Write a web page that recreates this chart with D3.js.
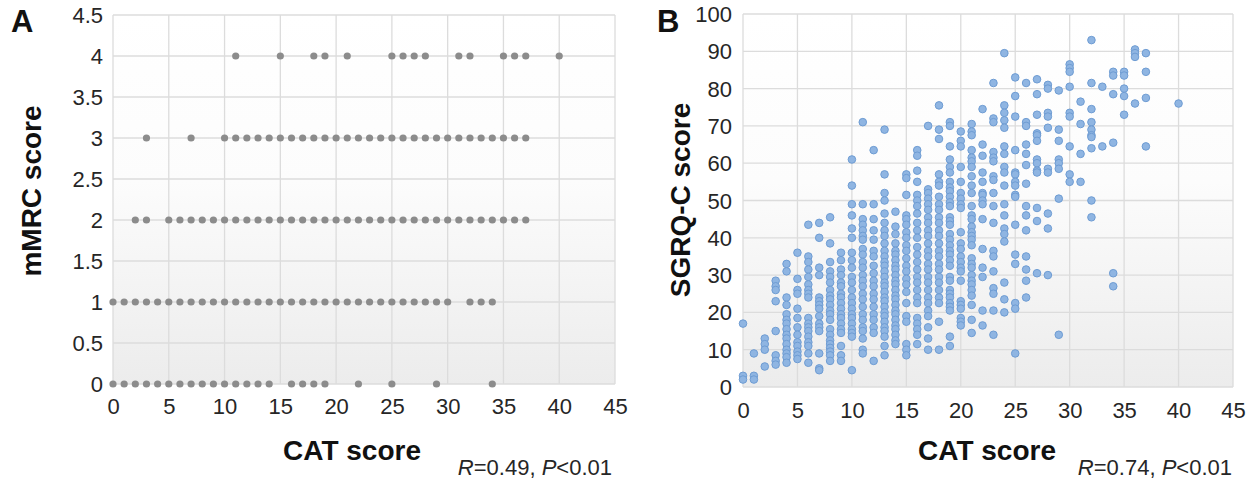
<html>
<head>
<title>mMRC and SGRQ-C vs CAT score</title>
<style>
  body { margin: 0; background: #fff; }
  svg { font-family: "Liberation Sans", Arial, sans-serif; }
</style>
</head>
<body>
<svg></svg>
<script src="https://d3js.org/d3.v7.min.js"></script>
<script>
// ---- data: panel A, CAT scores observed at each mMRC level ----
const mmrc0Cat = [0,1,2,3,4,5,6,7,8,9,10,11,12,13,14,16,17,18,19,22,25,29,34];
const mmrc1Cat = [0,1,2,3,4,5,6,7,8,9,10,11,12,13,14,15,16,17,18,19,20,21,22,23,24,25,26,27,28,29,30,32,33,34];
const mmrc2Cat = [2,3,5,6,7,8,9,10,11,12,13,14,15,16,17,18,19,20,21,22,23,24,25,26,27,28,29,30,31,32,33,34,35,36,37];
const mmrc3Cat = [3,7,10,11,12,13,14,15,16,17,18,19,20,21,22,23,24,25,26,27,28,29,30,31,32,33,34,35,36,37];
const mmrc4Cat = [11,15,18,19,21,25,26,27,28,31,32,35,36,37,40];

// ---- data: panel B, SGRQ-C scores for each CAT score ----
const sgrqCat0 = [17,3,2];
const sgrqCat1 = [9,3,2];
const sgrqCat2 = [13,11.5,10,5.5];
const sgrqCat3 = [28.5,27,26,23,15,8.5,7,6];
const sgrqCat4 = [33,31,24,22,19.5,18,17,15.5,14,13,11.5,10,9,8,6.5];
const sgrqCat5 = [36,29,26,25,21,18.5,16,14,12,11,9.5,8.5,7.5];
const sgrqCat6 = [43.5,35,33.5,31.5,29.5,27.5,26,25,24,18.5,17,16,15,13.5,12,11,9,6.5];
const sgrqCat7 = [44,40,32,30,24,23,22,21,19,17,16,15,9,5,4.5];
const sgrqCat8 = [45.5,38.5,33.5,31,29.5,28,26,24.5,23.5,22,20.5,19.5,18,15.5,14,12.5,11.5,10.5,9.5,8.5,7];
const sgrqCat9 = [36,34,31.5,30,28,27,25,24,22.5,21,19.5,18.5,17,15.5,14.5,11,8.5,7];
const sgrqCat10 = [61,54,49,46,42.5,40,36,34,32,29.5,28,26,24,22.5,21,19.5,18.5,17,15.5,14.5,13.5,4.5];
const sgrqCat11 = [71,49,45,43.5,42,40.5,39.5,37,35.5,33.5,32,30,28.5,27,25,23.5,21.5,19.5,18,16,15,13,10,9];
const sgrqCat12 = [63.5,49,45,42,39.5,36.5,35,32.5,30.5,28.5,27,25,23.5,21.5,19.5,18,16,14.5,7];
const sgrqCat13 = [69,57,52,50,46.5,44,42,40.5,38.5,36.5,35,33.5,32.5,31,29.5,28,27,25.5,24,23,21.5,20,19,17.5,16,15,13.5,11,8.5];
const sgrqCat14 = [47,43,41,38.5,36.5,35.5,34,32.5,31.5,30,28.5,27.5,26,24.5,23.5,22,20.5,19.5,18,16.5,15.5,14,12.5,11.5];
const sgrqCat15 = [57,56,51.5,46,45,43.5,41.5,40,38,36.5,34.5,32.5,31,29,27.5,25.5,22.5,19,17.5,11.5,10,8.5];
const sgrqCat16 = [63.5,62,58,55,51.5,50,48.5,46.5,44,42,40,37.5,35.5,33.5,31.5,29.5,28,26,24,22.5,18.5,17,15.5,14,11.5];
const sgrqCat17 = [70,53,52,50.5,49,47.5,45.5,44,42,40.5,38.5,36.5,35,33,31.5,29.5,28,26,24,22.5,20.5,19,16,13,10];
const sgrqCat18 = [75.5,69,66.5,57,55,54,51,49,47.5,45.5,44,42,40.5,38.5,36.5,35,33,31.5,29.5,28,26,24,22.5,17.5,10];
const sgrqCat19 = [71,70,64.5,61,59,57.5,55,53.5,52.5,51,49.5,48.5,45.5,44.5,43.5,41,39.5,38,36.5,35.5,34,32.5,29.5,28.5,26,25,24,22.5,21.5,20.5,13.5,11];
const sgrqCat20 = [68.5,66,64.5,59,55,52,50.5,49,48,41.5,38.5,37,35,33.5,32,31,28.5,23,22,21,18.5,17.5,16.5];
const sgrqCat21 = [70.5,68.5,67.5,63.5,61.5,60.5,59,56.5,54,52,48.5,46,45,43,41.5,40.5,39.5,38,34.5,33,32,30,28.5,27.5,26,24.5,22,18,14.5];
const sgrqCat22 = [74.5,65,62,57.5,55,52,51.5,50,49,45,37,32,29.5,20.5,16.5];
const sgrqCat23 = [81.5,72,71,63,61.5,60.5,56.5,55.5,52,48.5,44,36.5,35,31,26.5,25,20.5,14];
const sgrqCat24 = [89.5,75.5,73.5,71.5,69.5,64.5,62.5,59,57.5,54,49,46,42.5,41,39,28,23.5,20];
const sgrqCat25 = [83,78,72.5,63.5,57.5,57,55,54,51.5,51,43.5,35.5,33,22.5,21,9];
const sgrqCat26 = [81.5,71,70,65,62.5,59.5,54.5,48.5,46,42,35,31.5,28.5,24];
const sgrqCat27 = [82.5,78.5,73,68,67.5,66,61,60,58,57.5,48,44.5,30.5];
const sgrqCat28 = [81,80,73.5,72.5,69.5,58.5,57.5,46.5,42.5,30];
const sgrqCat29 = [79.5,69,66,61,60,58.5,50.5,14];
const sgrqCat30 = [86.5,85.5,84.5,80.5,73.5,72.5,64.5,57,55];
const sgrqCat31 = [76.5,70.5,62.5,55];
const sgrqCat32 = [93,81.5,74.5,71,69,67.5,67,64,50,45.5];
const sgrqCat33 = [80.5,64.5];
const sgrqCat34 = [84.5,83.5,78.5,65.5,30.5,27];
const sgrqCat35 = [84.5,83.5,80,78,73];
const sgrqCat36 = [90.5,89.5,88.5,76];
const sgrqCat37 = [89.5,84.5,77.5,64.5];
const sgrqCat40 = [76];

// ---- tick labels ----
const xTicks = [0,5,10,15,20,25,30,35,40,45];
const yTicksA = [0,0.5,1,1.5,2,2.5,3,3.5,4,4.5];
const yTicksB = [0,10,20,30,40,50,60,70,80,90,100];

// tidy tables built from the arrays above
const mmrcRows = [[0, mmrc0Cat],[1, mmrc1Cat],[2, mmrc2Cat],[3, mmrc3Cat],[4, mmrc4Cat]];
const pointsA = mmrcRows.flatMap(([m, cats]) => cats.map(c => ({cat: c, val: m})));

const sgrqCols = [
  [0,sgrqCat0],[1,sgrqCat1],[2,sgrqCat2],[3,sgrqCat3],[4,sgrqCat4],[5,sgrqCat5],
  [6,sgrqCat6],[7,sgrqCat7],[8,sgrqCat8],[9,sgrqCat9],[10,sgrqCat10],[11,sgrqCat11],
  [12,sgrqCat12],[13,sgrqCat13],[14,sgrqCat14],[15,sgrqCat15],[16,sgrqCat16],[17,sgrqCat17],
  [18,sgrqCat18],[19,sgrqCat19],[20,sgrqCat20],[21,sgrqCat21],[22,sgrqCat22],[23,sgrqCat23],
  [24,sgrqCat24],[25,sgrqCat25],[26,sgrqCat26],[27,sgrqCat27],[28,sgrqCat28],[29,sgrqCat29],
  [30,sgrqCat30],[31,sgrqCat31],[32,sgrqCat32],[33,sgrqCat33],[34,sgrqCat34],[35,sgrqCat35],
  [36,sgrqCat36],[37,sgrqCat37],[40,sgrqCat40]
];
const pointsB = sgrqCols.flatMap(([c, vals]) => vals.map(v => ({cat: c, val: v})));

const svg = d3.select("svg").attr("width", 1255).attr("height", 488);

// background gradient for the plot areas
const grad = svg.append("defs").append("linearGradient")
  .attr("id", "plotBg").attr("x1", 0).attr("y1", 0).attr("x2", 0).attr("y2", 1);
grad.append("stop").attr("offset", "0%").attr("stop-color", "#ffffff");
grad.append("stop").attr("offset", "45%").attr("stop-color", "#fcfcfc");
grad.append("stop").attr("offset", "100%").attr("stop-color", "#ececec");

function drawPanel(opts) {
  const x = d3.scaleLinear().domain([0, 45]).range([opts.left, opts.right]);
  const y = d3.scaleLinear().domain([0, opts.yMax]).range([opts.bottom, opts.top]);
  const g = svg.append("g");

  g.append("rect")
    .attr("x", opts.left).attr("y", opts.top)
    .attr("width", opts.right - opts.left).attr("height", opts.bottom - opts.top)
    .attr("fill", "url(#plotBg)");

  // grid lines
  g.append("g").selectAll("line").data(xTicks).join("line")
    .attr("x1", d => x(d)).attr("x2", d => x(d))
    .attr("y1", opts.top).attr("y2", opts.bottom)
    .attr("stroke", "#dcdcdc").attr("stroke-width", 1.3);
  g.append("g").selectAll("line").data(opts.yTicks).join("line")
    .attr("x1", opts.left).attr("x2", opts.right)
    .attr("y1", d => y(d)).attr("y2", d => y(d))
    .attr("stroke", "#dcdcdc").attr("stroke-width", 1.3);

  // axes (labels only)
  const xAxis = g.append("g")
    .attr("transform", "translate(0," + opts.bottom + ")")
    .call(d3.axisBottom(x).tickValues(xTicks).tickSize(0).tickFormat(d => String(d)));
  xAxis.select(".domain").remove();
  xAxis.selectAll("text")
    .attr("y", opts.xLabelDy).attr("dy", null)
    .attr("dominant-baseline", "central")
    .attr("font-size", 22).attr("fill", "#262626")
    .attr("font-family", "Liberation Sans, Arial, sans-serif");

  const yAxis = g.append("g")
    .attr("transform", "translate(" + opts.left + ",0)")
    .call(d3.axisLeft(y).tickValues(opts.yTicks).tickSize(0).tickFormat(d => String(d)));
  yAxis.select(".domain").remove();
  yAxis.selectAll("text")
    .attr("x", -opts.yLabelGap).attr("dy", null)
    .attr("dominant-baseline", "central")
    .attr("font-size", 22).attr("fill", "#262626")
    .attr("font-family", "Liberation Sans, Arial, sans-serif");

  // points
  g.append("g").selectAll("circle").data(opts.points).join("circle")
    .attr("cx", d => x(d.cat)).attr("cy", d => y(d.val))
    .attr("r", opts.r)
    .attr("fill", opts.fill)
    .attr("stroke", opts.stroke)
    .attr("stroke-width", opts.stroke === "none" ? 0 : 1);

  // axis titles
  g.append("text")
    .attr("x", opts.xTitleX).attr("y", 450)
    .attr("text-anchor", "middle").attr("dominant-baseline", "central")
    .attr("font-size", 28).attr("font-weight", "bold").attr("fill", "#111")
    .text("CAT score");
  g.append("text")
    .attr("transform", "translate(" + opts.yTitleX + "," + opts.yTitleY + ") rotate(-90)")
    .attr("text-anchor", "middle").attr("dominant-baseline", "central")
    .attr("font-size", 28).attr("font-weight", "bold").attr("fill", "#111")
    .text(opts.yTitle);

  // panel letter
  g.append("text")
    .attr("x", opts.letterX).attr("y", opts.letterY)
    .attr("font-size", 31).attr("font-weight", "bold").attr("fill", "#111")
    .text(opts.letter);

  // statistic note
  const note = g.append("text")
    .attr("x", opts.noteX).attr("y", 467)
    .attr("text-anchor", "end").attr("dominant-baseline", "central")
    .attr("font-size", 22).attr("fill", "#262626");
  note.append("tspan").attr("font-style", "italic").text("R");
  note.append("tspan").text("=" + opts.r2 + ", ");
  note.append("tspan").attr("font-style", "italic").text("P");
  note.append("tspan").text("<0.01");
}

drawPanel({
  left: 113, right: 615, top: 15, bottom: 384, yMax: 4.5, yTicks: yTicksA,
  points: pointsA, r: 3.6, fill: "#8c8c8c", stroke: "none",
  xLabelDy: 22, yLabelGap: 10,
  xTitleX: 352, yTitleX: 31, yTitleY: 191, yTitle: "mMRC score",
  letter: "A", letterX: 11, letterY: 32, noteX: 612, r2: "0.49"
});

drawPanel({
  left: 743, right: 1233, top: 14, bottom: 387, yMax: 100, yTicks: yTicksB,
  points: pointsB, r: 3.8, fill: "#8fb5e2", stroke: "#6e9cd3",
  xLabelDy: 23, yLabelGap: 11,
  xTitleX: 987, yTitleX: 680, yTitleY: 200, yTitle: "SGRQ-C score",
  letter: "B", letterX: 657, letterY: 32, noteX: 1232, r2: "0.74"
});
</script>
</body>
</html>
